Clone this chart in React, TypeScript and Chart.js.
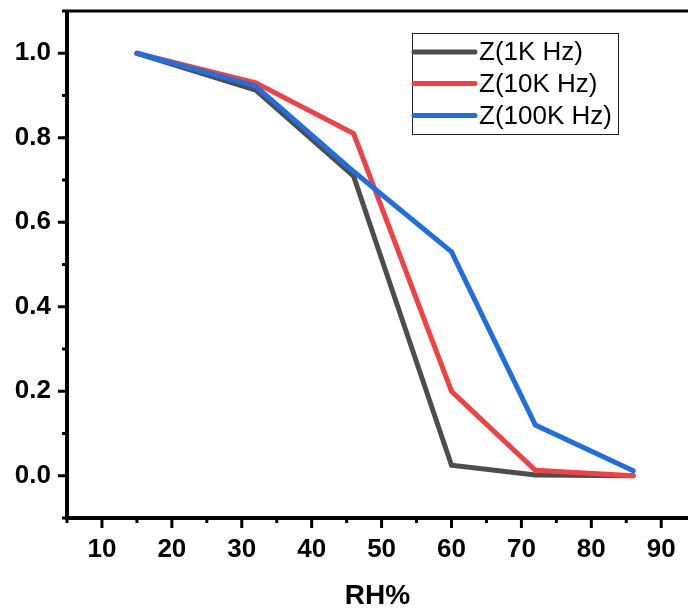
import React, { useEffect, useRef } from 'react';
import { Chart, registerables } from 'chart.js';

Chart.register(...registerables);

// ---- data ----
const rh = [15, 32, 46, 60, 72, 86];
const z1k = [1.0, 0.913, 0.709, 0.025, 0.002, 0.0];
const z10k = [1.0, 0.93, 0.81, 0.2, 0.013, 0.0];
const z100k = [1.0, 0.922, 0.72, 0.53, 0.12, 0.012];
const seriesLabels = ['Z(1K Hz)', 'Z(10K Hz)', 'Z(100K Hz)'];
const seriesColors = ['#4d4d4d', '#f04242', '#1f6fe0'];

// ---- ticks ----
const xTickValues = [5, 10, 15, 20, 25, 30, 35, 40, 45, 50, 55, 60, 65, 70, 75, 80, 85, 90];
const xTickLabels = ['10', '20', '30', '40', '50', '60', '70', '80', '90'];
const yTickValues = [-0.1, 0, 0.1, 0.2, 0.3, 0.4, 0.5, 0.6, 0.7, 0.8, 0.9, 1.0, 1.1];
const yTickLabels = ['0.0', '0.2', '0.4', '0.6', '0.8', '1.0'];

const FONT = '"Liberation Sans", Arial, sans-serif';

const isXMajor = (v: number) => xTickLabels.includes(String(Math.round(v)));
const fmtY = (v: number) => (Math.round(v * 10) / 10).toFixed(1);
const isYMajor = (v: number) => yTickLabels.includes(fmtY(v));

const frameAndTicks = {
  id: 'frameAndTicks',
  afterDraw(chart: any) {
    const { ctx, chartArea, scales } = chart;
    const xs = scales.x;
    const ys = scales.y;
    ctx.save();
    ctx.strokeStyle = '#000';
    ctx.lineCap = 'butt';
    ctx.lineWidth = 3;
    yTickValues.forEach((v) => {
      const p = ys.getPixelForValue(v);
      const len = isYMajor(v) ? 9 : 5;
      ctx.beginPath();
      ctx.moveTo(chartArea.left - len, p);
      ctx.lineTo(chartArea.left, p);
      ctx.stroke();
    });
    xTickValues.forEach((v) => {
      const p = xs.getPixelForValue(v);
      const len = isXMajor(v) ? 10 : 5;
      ctx.beginPath();
      ctx.moveTo(p, chartArea.bottom);
      ctx.lineTo(p, chartArea.bottom + len);
      ctx.stroke();
    });
    ctx.lineWidth = 4;
    ctx.beginPath();
    ctx.moveTo(chartArea.left, chartArea.top - 1);
    ctx.lineTo(chartArea.left, chartArea.bottom + 2);
    ctx.stroke();
    ctx.beginPath();
    ctx.moveTo(chartArea.left - 2, chartArea.bottom);
    ctx.lineTo(chart.width, chartArea.bottom);
    ctx.stroke();
    ctx.lineWidth = 3;
    ctx.beginPath();
    ctx.moveTo(chartArea.left, chartArea.top);
    ctx.lineTo(chart.width, chartArea.top);
    ctx.stroke();
    ctx.restore();
  },
};

const boxLegend = {
  id: 'boxLegend',
  afterDraw(chart: any) {
    const { ctx } = chart;
    const left = 412;
    const top = 33.5;
    const w = 206;
    const h = 101;
    ctx.save();
    ctx.fillStyle = '#fff';
    ctx.fillRect(left, top, w, h);
    ctx.strokeStyle = '#222';
    ctx.lineWidth = 1;
    ctx.strokeRect(left + 0.5, top, w, h);
    const rows = [52, 83.5, 115.5];
    ctx.font = `26px ${FONT}`;
    ctx.textBaseline = 'middle';
    ctx.textAlign = 'left';
    seriesLabels.forEach((lab, i) => {
      ctx.strokeStyle = seriesColors[i];
      ctx.lineWidth = 5;
      ctx.lineCap = 'round';
      ctx.beginPath();
      ctx.moveTo(left + 2, rows[i]);
      ctx.lineTo(left + 63, rows[i]);
      ctx.stroke();
      ctx.fillStyle = '#000';
      ctx.fillText(lab, left + 67, rows[i] + 1);
    });
    ctx.restore();
  },
};

export default function App() {
  const ref = useRef<HTMLCanvasElement | null>(null);

  useEffect(() => {
    document.body.style.margin = '0';
    const canvas = ref.current;
    if (!canvas) return;
    const mk = (data: number[]) => rh.map((x, i) => ({ x, y: data[i] }));
    const all = [z1k, z10k, z100k];
    const chart = new Chart(canvas, {
      type: 'line',
      data: {
        datasets: all.map((d, i) => ({
          label: seriesLabels[i],
          data: mk(d),
          borderColor: seriesColors[i],
          backgroundColor: seriesColors[i],
          borderWidth: 5,
          pointRadius: 0,
          tension: 0,
          borderCapStyle: 'round' as const,
          borderJoinStyle: 'miter' as const,
          order: 3 - i,
        })),
      },
      options: {
        animation: false,
        responsive: false,
        events: [],
        layout: { padding: { top: 11, left: 0, right: 0, bottom: 0 } },
        plugins: {
          legend: { display: false },
          tooltip: { enabled: false },
        },
        scales: {
          x: {
            type: 'linear',
            min: 5,
            max: 93.83,
            afterBuildTicks: (s: any) => {
              s.ticks = xTickValues.map((v) => ({ value: v }));
            },
            afterFit: (s: any) => {
              s.height = 91;
              s.paddingLeft = 0;
              s.paddingRight = 0;
            },
            grid: { display: false, drawTicks: false },
            border: { display: false },
            ticks: {
              autoSkip: false,
              maxRotation: 0,
              padding: 16,
              color: '#000',
              font: { family: FONT, size: 26, weight: 'bold' },
              callback: (v: any) => (isXMajor(Number(v)) ? String(Math.round(Number(v))) : ''),
            },
            title: {
              display: true,
              text: 'RH%',
              color: '#000',
              font: { family: FONT, size: 28, weight: 'bold' },
              padding: { top: 0, bottom: -4 },
            },
          },
          y: {
            type: 'linear',
            min: -0.1,
            max: 1.1,
            afterBuildTicks: (s: any) => {
              s.ticks = yTickValues.map((v) => ({ value: v }));
            },
            afterFit: (s: any) => {
              s.width = 67;
              s.paddingTop = 0;
              s.paddingBottom = 0;
            },
            grid: { display: false, drawTicks: false },
            border: { display: false },
            ticks: {
              autoSkip: false,
              padding: 16,
              color: '#000',
              font: { family: FONT, size: 26, weight: 'bold' },
              callback: (v: any) => (isYMajor(Number(v)) ? fmtY(Number(v)) : ''),
            },
          },
        },
      },
      plugins: [frameAndTicks, boxLegend],
    });
    return () => chart.destroy();
  }, []);

  return (
    <div style={{ position: 'fixed', left: 0, top: 0, width: 688, height: 609, background: '#fff' }}>
      <canvas ref={ref} width={688} height={609} style={{ display: 'block' }} />
    </div>
  );
}
